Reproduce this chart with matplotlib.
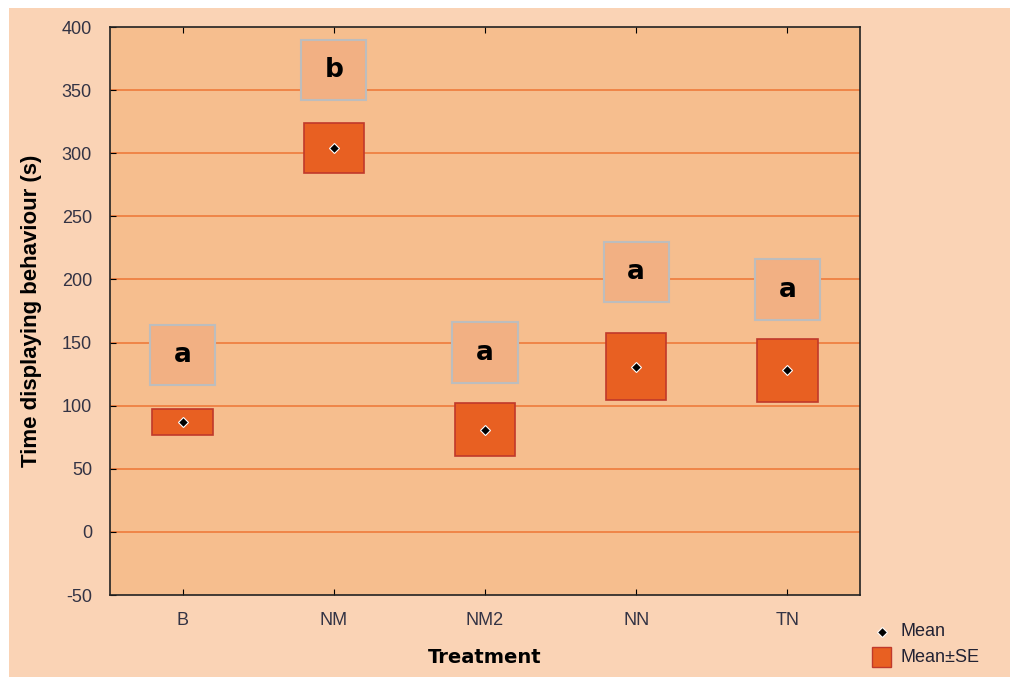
import matplotlib.pyplot as plt
from matplotlib.patches import Rectangle

plt.rcParams["axes.unicode_minus"] = False

treatments = ["B", "NM", "NM2", "NN", "TN"]
means = [87, 304, 81, 131, 128]
se = [10, 20, 21, 26.5, 25]
letters = ["a", "b", "a", "a", "a"]
letter_y = [140, 366, 142, 206, 192]
y_ticks = [-50, 0, 50, 100, 150, 200, 250, 300, 350, 400]

fig_bg = "#FAD3B5"
ax_bg = "#F6BE8E"
grid_c = "#EE7535"
box_c = "#E86022"
box_edge = "#C0392B"
let_c = "#F2B083"

fig = plt.figure(figsize=(10.1, 6.77), dpi=100, facecolor="white")
fig.patches.append(Rectangle((9 / 1010, 0), 1, 1 - 8 / 677, transform=fig.transFigure,
                             facecolor=fig_bg, edgecolor="none", zorder=-10))
ax = fig.add_axes([110 / 1010, 1 - 595 / 677, 750 / 1010, 568 / 677])
ax.set_facecolor(ax_bg)

ax.set_xlim(-0.48, 4.48)
ax.set_ylim(-50, 400)
ax.set_yticks(y_ticks)
for y in y_ticks[1:-1]:
    ax.axhline(y, color=grid_c, lw=1.1, zorder=1)

w = 0.4
for i, (m, s) in enumerate(zip(means, se)):
    ax.add_patch(Rectangle((i - w / 2, m - s), w, 2 * s, facecolor=box_c,
                           edgecolor=box_edge, lw=1.2, zorder=3))
    ax.plot(i, m, marker="D", ms=5.5, color="black", mec="white", mew=0.8, zorder=4)
    lw_ = 0.43
    lh = 48
    ax.add_patch(Rectangle((i - lw_ / 2, letter_y[i] - lh / 2), lw_, lh, facecolor=let_c,
                           edgecolor="#BDBDBD", lw=1.5, zorder=3))
    ax.text(i, letter_y[i], letters[i], ha="center", va="center", fontsize=19,
            fontweight="bold", color="black", zorder=5)

ax.set_xticks(range(len(treatments)))
ax.set_xticklabels(treatments)
ax.tick_params(axis="x", direction="in", top=True, labelsize=13, pad=12, length=4)
ax.tick_params(axis="y", direction="in", labelsize=13, length=4, pad=13)
for lbl in ax.get_xticklabels() + ax.get_yticklabels():
    lbl.set_color("#333344")
    lbl.set_family("Liberation Sans")
for sp in ax.spines.values():
    sp.set_color("#222222")
    sp.set_linewidth(1.2)

ax.set_xlabel("Treatment", fontsize=14, fontweight="bold", labelpad=14)
ax.set_ylabel("Time displaying behaviour (s)", fontsize=16, fontweight="bold",
              family="Liberation Sans", labelpad=14)

# legend
fig.lines.append(plt.Line2D([882 / 1010], [1 - 632 / 677], transform=fig.transFigure,
                            marker="D", ms=5.5, color="black", mec="white", mew=0.8))
fig.text(900 / 1010, 1 - 632 / 677, "Mean", fontsize=13, va="center", color="#222233",
         family="Liberation Sans")
fig.patches.append(Rectangle((872 / 1010, 1 - 667 / 677), 19 / 1010, 20 / 677,
                             transform=fig.transFigure, facecolor=box_c,
                             edgecolor=box_edge, lw=1))
fig.text(900 / 1010, 1 - 658 / 677, "Mean±SE", fontsize=13, va="center", color="#222233",
         family="Liberation Sans")

fig.savefig("out.png", dpi=100, facecolor=fig.get_facecolor())
